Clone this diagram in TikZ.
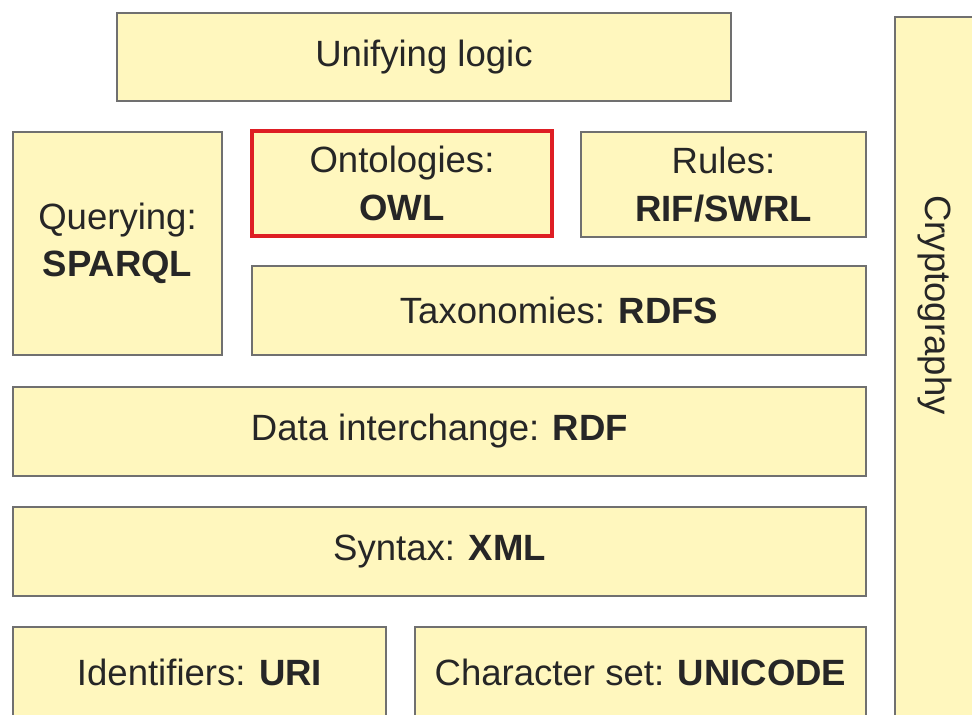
\documentclass[tikz,border=0pt]{standalone}
\usepackage{fontspec}
\setmainfont{Liberation Sans}
\usetikzlibrary{positioning}
\definecolor{layerfill}{RGB}{255,247,190}
\definecolor{layerline}{RGB}{112,112,112}
\definecolor{owlred}{RGB}{222,30,36}
\tikzset{
	layer/.style={draw=layerline,fill=layerfill,line width=1.6pt,rectangle,align=center,inner sep=0pt,font=\fontsize{20.8}{27}\selectfont,text=black!85},
	highlight/.style={draw=owlred,line width=2.8pt},
	wide/.style={minimum width=17.06cm,minimum height=1.78cm}
}

\begin{document}
\begin{tikzpicture}
	\useasboundingbox (0,0) rectangle (19.44,14.28);
	\clip (0,0) rectangle (19.44,14.28);
	
	\node[layer,minimum width=12.28cm,minimum height=1.76cm] (logic) at (8.48,13.14) {Unifying logic};
	
	\node[layer,minimum width=4.18cm,minimum height=4.46cm] (query) at (2.35,9.41) {Querying:\\\textbf{SPARQL}};
	\node[layer,highlight,minimum width=6cm,minimum height=2.1cm] (owl) at (8.04,10.61) {Ontologies:\\\textbf{OWL}}; % marked in red
	\node[layer,minimum width=5.7cm,minimum height=2.1cm] (rules) at (14.47,10.59) {Rules:\\\textbf{RIF/SWRL}};
	\node[layer,minimum width=12.28cm,minimum height=1.78cm] (rdfs) at (11.18,8.07) {Taxonomies: \textbf{RDFS}};
	
	\node[layer,wide] (rdf) at (8.79,5.65) {Data interchange: \textbf{RDF}};
	\node[layer,wide] (xml) at (8.79,3.25) {Syntax: \textbf{XML}};
	
	\node[layer,minimum width=7.46cm,minimum height=1.8cm] (uri) at (3.99,0.84) {Identifiers: \textbf{URI}};
	\node[layer,minimum width=9.02cm,minimum height=1.8cm] (unicode) at (12.81,0.84) {Character set: \textbf{UNICODE}};
	
	% side column, runs past the picture edge
	\node[layer,minimum width=1.6cm,minimum height=14.04cm] (crypto) at (18.70,6.92) {};
	\node[rotate=-90,font=\fontsize{20.8}{27}\selectfont,text=black!85] (cryptotext) at (18.70,8.18) {Cryptography};
\end{tikzpicture}
\end{document}
